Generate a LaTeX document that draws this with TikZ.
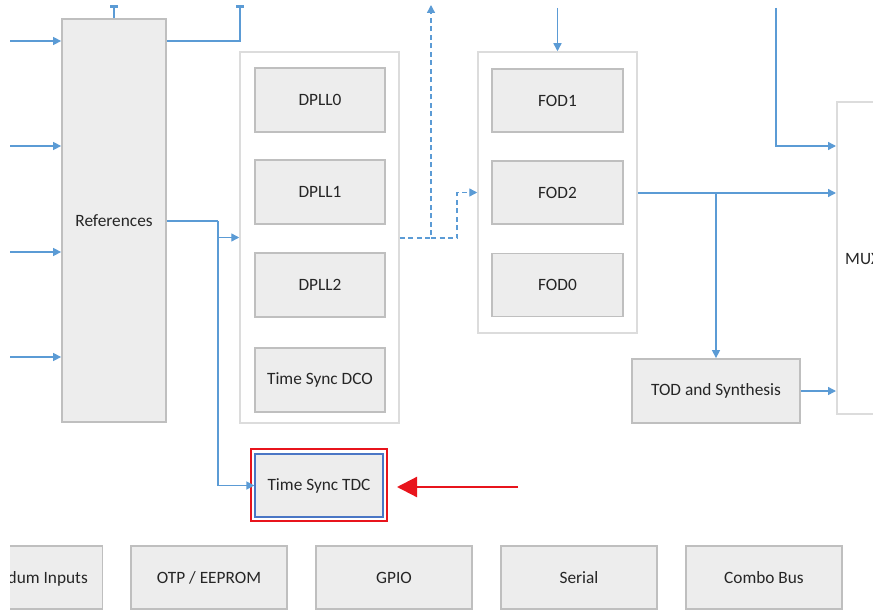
\documentclass[tikz,border=0pt]{standalone}
\usepackage{fontspec}
\setmainfont{Carlito}
\usetikzlibrary{arrows.meta,calc}
\definecolor{cblue}{HTML}{5B9BD5}
\definecolor{boxfill}{HTML}{EDEDED}
\definecolor{boxline}{HTML}{BFBFBF}
\definecolor{grpline}{HTML}{DCDCDC}
\definecolor{txt}{HTML}{262626}
\definecolor{cred}{HTML}{E8141C}
\definecolor{tdcblue}{HTML}{4A76C5}
\tikzset{
  blk/.style={draw=boxline, fill=boxfill, line width=1.8pt, rectangle, inner sep=0pt,
    text=txt, font=\fontsize{17.3}{20}\selectfont},
  grp/.style={draw=grpline, fill=white, line width=1.5pt, rectangle, inner sep=0pt},
  conn/.style={draw=cblue, line width=1.4pt},
  arr/.style={conn, -{Triangle[length=8pt,width=8pt]}},
  darr/.style={conn, dashed, dash pattern=on 5pt off 3.5pt, -{Triangle[length=8pt,width=8pt]}},
  lbl/.style={text=txt, font=\fontsize{17.3}{20}\selectfont, inner sep=0pt}
}
\begin{document}
\begin{tikzpicture}[x=1pt,y=-1pt]
\useasboundingbox (0,0) rectangle (873,610);
\clip (0,0) rectangle (873,610);
\fill[white] (0,0) rectangle (873,610);

% groups
\node[grp, minimum width=159pt, minimum height=371pt] (dpllg) at (319.5,237.5) {};
\node[grp, minimum width=159pt, minimum height=281pt] (fodg) at (557.5,192.5) {};
\node[grp, minimum width=80pt, minimum height=312pt, anchor=north west] (mux) at (836,101) {};
\node[lbl, anchor=west] (muxt) at (845,259) {MUX};

% references
\node[blk, minimum width=104pt, minimum height=403pt] (ref) at (114,220.5) {References};

% DPLLs
\node[blk, minimum width=130pt, minimum height=64pt] (dpll0) at (320,100) {DPLL0};
\node[blk, minimum width=130pt, minimum height=64pt] (dpll1) at (320,192) {DPLL1};
\node[blk, minimum width=130pt, minimum height=64pt] (dpll2) at (320,285) {DPLL2};
\node[blk, minimum width=130pt, minimum height=64pt] (dco) at (320,380) {Time Sync DCO};

% FODs
\node[blk, minimum width=131pt, minimum height=63pt] (fod1) at (557.5,100.5) {FOD1};
\node[blk, minimum width=131pt, minimum height=63pt] (fod2) at (557.5,192.5) {FOD2};
\node[blk, minimum width=131pt, minimum height=63pt] (fod0) at (557.5,285) {FOD0};

% TOD
\node[blk, minimum width=168pt, minimum height=64pt] (tod) at (716,391) {TOD and Synthesis};

% TDC
\node[draw=cred, line width=2.2pt, minimum width=136pt, minimum height=72pt, inner sep=0pt] (tdcframe) at (319,485) {};
\node[blk, draw=tdcblue, line width=1.2pt, minimum width=128pt, minimum height=63pt] (tdc) at (319,485.5) {Time Sync TDC};

% bottom row
\begin{scope}
\clip (10,530) rectangle (200,610);
\node[blk, minimum width=156pt, minimum height=63pt] (b1) at (24.5,577.5) {};
\node[lbl, anchor=east] (b1t) at (88,579) {dum Inputs};
\end{scope}
\node[blk, minimum width=156pt, minimum height=63pt] (b2) at (209,577.5) {OTP / EEPROM};
\node[blk, minimum width=156pt, minimum height=63pt] (b3) at (394,577.5) {GPIO};
\node[blk, minimum width=156pt, minimum height=63pt] (b4) at (579,577.5) {Serial};
\node[blk, minimum width=156pt, minimum height=63pt] (b5) at (764,577.5) {Combo Bus};

% coordinates
\coordinate (in1) at (10,41);
\coordinate (in2) at (10,146);
\coordinate (in3) at (10,252);
\coordinate (in4) at (10,357);
\coordinate (s1) at (114,8);
\coordinate (s2) at (240,8);
\coordinate (j1) at (218,221);
\coordinate (d1) at (431,238);
\coordinate (d1top) at (431,5);
\coordinate (d2) at (457,238);
\coordinate (ftop) at (557.5,8);
\coordinate (j2) at (716,193);
\coordinate (mtop) at (776,8);
\coordinate (m1) at (836,146);
\coordinate (redstart) at (518,487);
\coordinate (redtip) at (397,487);

% inputs
\draw[arr] (in1) -- (in1 -| ref.west);
\draw[arr] (in2) -- (in2 -| ref.west);
\draw[arr] (in3) -- (in3 -| ref.west);
\draw[arr] (in4) -- (in4 -| ref.west);

% top stubs
\draw[conn] (s1 |- ref.north) -- (s1);
\fill[cblue] ($(s1)+(-4,-3)$) rectangle ($(s1)+(4,0)$);
\draw[conn] (ref.east |- in1) -| (s2);
\fill[cblue] ($(s2)+(-4,-3)$) rectangle ($(s2)+(4,0)$);

% references out
\draw[conn] (ref.east |- j1) -- (j1);
\draw[arr] (j1) |- (dpllg.west);
\draw[arr] (j1) |- (tdc.west);

% dashed
\draw[darr] (dpllg.east |- d1) -- (d1) -- (d1top);
\draw[darr] (d1) -- (d2) |- (fodg.west);

% FOD
\draw[arr] (ftop) -- (fodg.north);
\draw[arr] (fodg.east |- j2) -- (j2 -| mux.west);
\draw[arr] (j2) -- (tod.north);
\draw[arr] (tod.east) -- (tod.east -| mux.west);
\draw[arr] (mtop) |- (m1);

% red arrow
\draw[cred, line width=2.2pt, -{Triangle[length=20pt,width=20pt]}] (redstart) -- (redtip);
\end{tikzpicture}
\end{document}
